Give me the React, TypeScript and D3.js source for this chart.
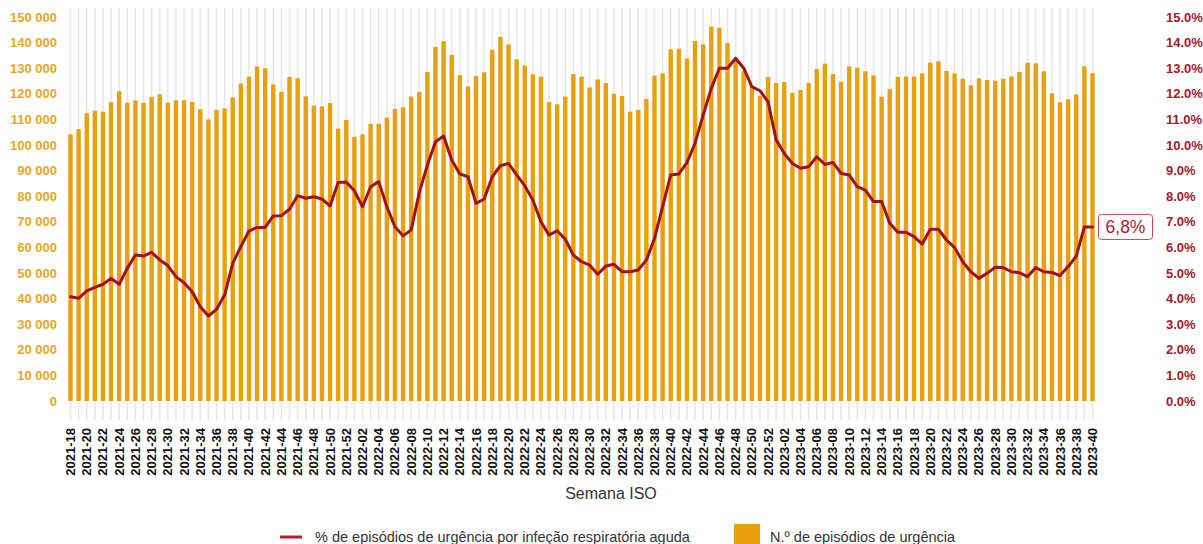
import React from "react";
import * as d3 from "d3";

const WIDTH = 1203;
const HEIGHT = 544;

// ISO weeks 2021-18 .. 2023-40
const yearSpans: [number, number, number][] = [
  [2021, 18, 52],
  [2022, 1, 52],
  [2023, 1, 40],
];
const weeks: string[] = [];
yearSpans.forEach(([y, a, b]) => {
  for (let w = a; w <= b; w++) weeks.push(`${y}-${w < 10 ? "0" + w : w}`);
});

// N.º de episódios de urgência (thousands)
const episodes: number[] = [
  104.2, 106.2, 112.4, 113.4, 113.0, 116.7, 121.0, 116.5, 117.4, 116.5,
  118.8, 119.8, 116.5, 117.5, 117.5, 116.8, 114.0, 110.0, 113.8, 114.3,
  118.6, 124.0, 126.7, 130.7, 130.0, 123.7, 120.8, 126.6, 126.1, 119.0,
  115.4, 115.1, 116.4, 106.4, 109.8, 103.2, 104.2, 108.3, 108.3, 110.7,
  114.1, 114.7, 118.9, 120.7, 128.5, 138.3, 140.6, 135.2, 127.3, 122.9,
  127.0, 128.4, 137.2, 142.2, 139.3, 133.5, 131.1, 127.6, 126.7, 116.8,
  115.9, 118.9, 127.7, 126.7, 122.5, 125.6, 124.2, 120.0, 119.1, 113.0,
  113.7, 118.0, 127.1, 128.0, 137.4, 137.6, 133.8, 140.6, 139.3, 146.2,
  145.8, 139.8, 133.5, 128.8, 123.0, 119.3, 126.6, 124.2, 124.6, 120.4,
  121.5, 124.2, 129.7, 131.8, 127.7, 124.7, 130.7, 130.2, 128.8, 127.2,
  118.9, 121.8, 126.6, 126.8, 126.8, 128.0, 132.2, 132.7, 128.9, 128.0,
  125.9, 123.3, 126.0, 125.4, 125.1, 125.9, 126.8, 128.5, 132.2, 131.9,
  128.8, 120.2, 116.7, 117.8, 119.8, 130.7, 128.1,
].map((v) => v * 1000);

// % de episódios de urgência por infeção respiratória aguda
const ariPct: number[] = [
  4.07, 4.01, 4.3, 4.44, 4.56, 4.79, 4.56, 5.18, 5.7, 5.66,
  5.81, 5.51, 5.29, 4.86, 4.62, 4.27, 3.68, 3.32, 3.58, 4.14,
  5.38, 6.03, 6.64, 6.78, 6.78, 7.23, 7.24, 7.49, 8.02, 7.92,
  7.98, 7.89, 7.62, 8.54, 8.55, 8.21, 7.59, 8.37, 8.57, 7.59,
  6.81, 6.45, 6.68, 8.14, 9.22, 10.13, 10.35, 9.41, 8.87, 8.76,
  7.72, 7.89, 8.76, 9.19, 9.28, 8.83, 8.41, 7.85, 7.0, 6.48,
  6.65, 6.32, 5.7, 5.44, 5.31, 4.95, 5.27, 5.34, 5.05, 5.05,
  5.12, 5.51, 6.35, 7.59, 8.83, 8.87, 9.31, 10.07, 11.17, 12.21,
  13.0, 13.0, 13.39, 13.0, 12.28, 12.12, 11.69, 10.2, 9.67, 9.28,
  9.09, 9.15, 9.54, 9.24, 9.32, 8.89, 8.83, 8.37, 8.24, 7.79,
  7.79, 6.94, 6.59, 6.59, 6.42, 6.13, 6.71, 6.71, 6.29, 5.99,
  5.44, 5.05, 4.79, 4.99, 5.22, 5.21, 5.05, 5.01, 4.86, 5.21,
  5.05, 5.02, 4.9, 5.25, 5.66, 6.8, 6.8,
];

const leftTicks: number[] = d3.range(0, 150001, 10000);
const rightTicks: number[] = d3.range(0, 15.01, 1);
const lastLabel = "6,8%";

const BAR_COLOR = "#e8a00c";
const LINE_COLOR = "#a50f1a";
const LEFT_TXT = "#eaa526";
const RIGHT_TXT = "#a5192b";
const FONT = "'Liberation Sans', Arial, sans-serif";

export default function App() {
  const x = d3.scalePoint<string>().domain(weeks).range([70.5, 1092.5]);
  const yL = d3.scaleLinear().domain([0, 150000]).range([401, 17]);
  const yR = d3.scaleLinear().domain([0, 15]).range([401, 17]);
  const barW = 4.4;

  const line = d3
    .line<number>()
    .x((_, i) => x(weeks[i]) as number)
    .y((d) => yR(d));

  const lastX = x(weeks[weeks.length - 1]) as number;
  const lastY = yR(ariPct[ariPct.length - 1]);

  return (
    <svg
      width={WIDTH}
      height={HEIGHT}
      style={{ position: "absolute", left: 0, top: 0, background: "#fff" }}
      fontFamily={FONT}
    >
      {/* vertical grid lines */}
      {weeks.map((w) => (
        <line
          key={"g" + w}
          x1={x(w)}
          x2={x(w)}
          y1={8}
          y2={420}
          stroke="#e6e6e6"
          strokeWidth={1.5}
        />
      ))}
      {/* bars */}
      {episodes.map((v, i) => (
        <rect
          key={"b" + i}
          x={(x(weeks[i]) as number) - barW / 2}
          y={yL(v)}
          width={barW}
          height={yL(0) - yL(v)}
          fill={BAR_COLOR}
        />
      ))}
      {/* line */}
      <path
        d={line(ariPct) || ""}
        fill="none"
        stroke={LINE_COLOR}
        strokeWidth={3}
        strokeLinejoin="round"
        strokeLinecap="round"
      />
      {/* last value label */}
      <rect
        x={lastX + 6}
        y={lastY - 12.5}
        width={54}
        height={25}
        rx={3}
        fill="#fff"
        stroke="#c24557"
        strokeWidth={1}
      />
      <text
        x={lastX + 33}
        y={lastY + 6.5}
        textAnchor="middle"
        fontSize={17.5}
        fill="#b01a2c"
      >
        {lastLabel}
      </text>
      {/* left axis */}
      {leftTicks.map((t) => (
        <text
          key={"l" + t}
          x={57}
          y={yL(t)}
          dy="0.35em"
          textAnchor="end"
          fontSize={13}
          fontWeight="bold"
          fill={LEFT_TXT}
        >
          {d3.format(",")(t).replace(/,/g, " ")}
        </text>
      ))}
      {/* right axis */}
      {rightTicks.map((t) => (
        <text
          key={"r" + t}
          x={1166}
          y={yR(t)}
          dy="0.35em"
          textAnchor="start"
          fontSize={13}
          fontWeight="bold"
          fill={RIGHT_TXT}
        >
          {t.toFixed(1) + "%"}
        </text>
      ))}
      {/* x tick labels */}
      {weeks.map((w, i) =>
        i % 2 === 0 ? (
          <text
            key={"x" + w}
            transform={`translate(${(x(w) as number) + 4.5},428) rotate(-90)`}
            textAnchor="end"
            fontSize={13}
            fontWeight="bold"
            fill="#111"
          >
            {w}
          </text>
        ) : null
      )}
      {/* axis title */}
      <text x={611} y={499} textAnchor="middle" fontSize={16} fill="#333">
        Semana ISO
      </text>
      {/* legend */}
      <line x1={280} x2={302} y1={537} y2={537} stroke="#b3202a" strokeWidth={3} />
      <text x={315} y={542} fontSize={14.5} fill="#333">
        % de episódios de urgência por infeção respiratória aguda
      </text>
      <rect x={734} y={524} width={26} height={20} fill={BAR_COLOR} />
      <text x={770} y={542} fontSize={14.5} fill="#333">
        N.º de episódios de urgência
      </text>
    </svg>
  );
}
